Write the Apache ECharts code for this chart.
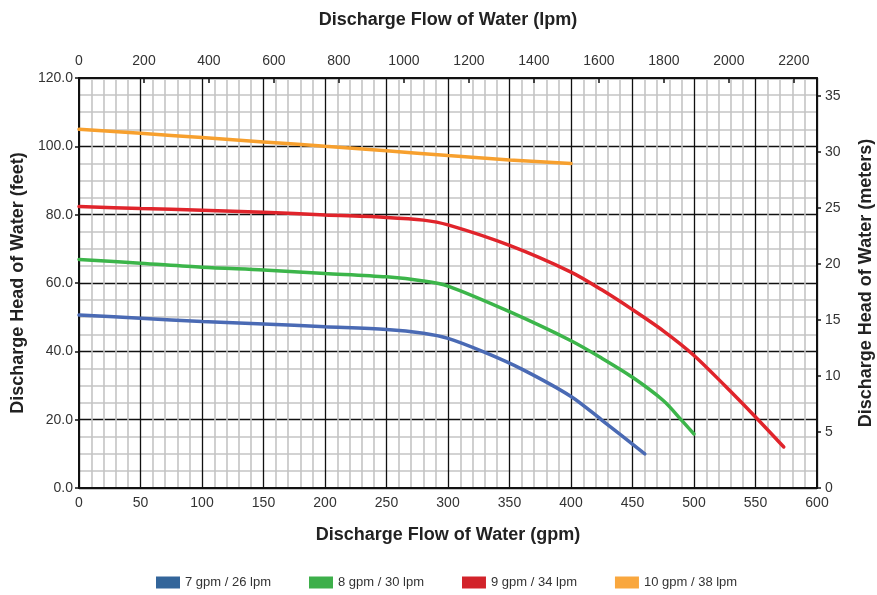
<!DOCTYPE html>
<html>
<head>
<meta charset="utf-8">
<script src="https://cdn.jsdelivr.net/npm/echarts@6/dist/echarts.min.js"></script>
<style>html,body{margin:0;padding:0;background:#fff;overflow:hidden}#c{width:877px;height:595px}</style>
</head>
<body>
<div id="c"></div>
<script>
// ---- data ----
var seriesNames = ['7 gpm / 26 lpm', '8 gpm / 30 lpm', '9 gpm / 34 lpm', '10 gpm / 38 lpm'];
var blueGpm = [0, 50, 100, 150, 200, 250, 280, 300, 330, 360, 400, 425, 460];
var blueFt  = [50.6, 49.7, 48.7, 48.0, 47.2, 46.4, 45.3, 43.8, 39.7, 34.8, 26.8, 19.9, 10.0];
var greenGpm = [0, 50, 100, 150, 200, 250, 280, 300, 350, 400, 425, 450, 475, 490, 500];
var greenFt  = [66.9, 65.8, 64.6, 63.8, 62.8, 61.8, 60.6, 59.1, 51.6, 43.1, 38.0, 32.4, 25.6, 19.8, 15.8];
var redGpm = [0, 50, 100, 150, 200, 250, 280, 300, 350, 400, 425, 450, 475, 500, 525, 550, 573];
var redFt  = [82.4, 81.8, 81.3, 80.7, 79.9, 79.2, 78.4, 77.0, 71.0, 63.2, 58.0, 52.2, 46.0, 38.8, 30.0, 20.8, 12.0];
var orangeGpm = [0, 50, 100, 150, 200, 250, 300, 350, 400];
var orangeFt  = [105.0, 103.8, 102.6, 101.3, 100.0, 98.7, 97.3, 96.0, 95.0];
var gpmTicks = [0, 600, 50];        // min, max, interval
var feetTicks = [0, 120, 20];
var lpmTicks = [0, 200];            // min, interval
var meterTicks = [0, 5];

var lineColors = ['#4a6ab4', '#3cb54a', '#e0242b', '#f7a02e'];
var legendColors = ['#33659a', '#3daf4a', '#d2232a', '#f9a73e'];

function pairs(xs, ys) { return xs.map(function (x, i) { return [x, ys[i]]; }); }
var datasets = [pairs(blueGpm, blueFt), pairs(greenGpm, greenFt), pairs(redGpm, redFt), pairs(orangeGpm, orangeFt)];

var GPM_TO_LPM = 3.78541, FT_TO_M = 0.3048;
var font = '"Liberation Sans", Arial, sans-serif';
var tickLabel = { color: '#333', fontFamily: font, fontSize: 14 };
var nameStyle = { color: '#222', fontFamily: font, fontWeight: 'bold', fontSize: 18 };
var axLine = { show: true, onZero: false, lineStyle: { color: '#111', width: 2 } };

var chart = echarts.init(document.getElementById('c'), null, { renderer: 'canvas' });
chart.setOption({
  backgroundColor: '#fff',
  animation: false,
  grid: { left: 79, right: 60, top: 78, bottom: 107, containLabel: false, outerBoundsMode: 'none' },
  legend: {
    bottom: 1, left: 151,
    icon: 'rect', itemWidth: 24, itemHeight: 12, itemGap: 38,
    textStyle: { color: '#333', fontFamily: font, fontSize: 13 },
    data: seriesNames
  },
  xAxis: [
    {
      type: 'value', position: 'bottom', min: gpmTicks[0], max: gpmTicks[1], interval: gpmTicks[2],
      name: 'Discharge Flow of Water (gpm)', nameLocation: 'middle', nameGap: 38, nameTextStyle: nameStyle,
      axisLine: axLine, axisTick: { show: false },
      axisLabel: Object.assign({ margin: 8, formatter: function (v) { return String(v); } }, tickLabel),
      splitLine: { show: true, lineStyle: { color: '#111', width: 1.3 } },
      minorTick: { show: false, splitNumber: 5 },
      minorSplitLine: { show: true, lineStyle: { color: '#c4c4c4', width: 1.6 } }
    },
    {
      type: 'value', position: 'top', min: lpmTicks[0], max: gpmTicks[1] * GPM_TO_LPM, interval: lpmTicks[1],
      name: 'Discharge Flow of Water (lpm)', nameLocation: 'middle', nameGap: 49, nameTextStyle: nameStyle,
      axisLine: axLine, axisTick: { show: true, inside: true, length: 5, lineStyle: { color: '#111', width: 1.5 } },
      axisLabel: Object.assign({ margin: 10, showMaxLabel: false, formatter: function (v) { return String(v); } }, tickLabel),
      splitLine: { show: false }
    }
  ],
  yAxis: [
    {
      type: 'value', position: 'left', min: feetTicks[0], max: feetTicks[1], interval: feetTicks[2],
      name: 'Discharge Head of Water (feet)', nameLocation: 'middle', nameGap: 52, nameTextStyle: nameStyle,
      axisLine: axLine, axisTick: { show: true, length: 4, lineStyle: { color: '#111', width: 1.5 } },
      axisLabel: Object.assign({ margin: 6, formatter: function (v) { return v.toFixed(1); } }, tickLabel),
      splitLine: { show: true, lineStyle: { color: '#111', width: 1.3 } },
      minorTick: { show: false, splitNumber: 4 },
      minorSplitLine: { show: true, lineStyle: { color: '#c4c4c4', width: 1.6 } }
    },
    {
      type: 'value', position: 'right', min: meterTicks[0], max: feetTicks[1] * FT_TO_M, interval: meterTicks[1],
      name: 'Discharge Head of Water (meters)', nameLocation: 'middle', nameGap: 40, nameTextStyle: nameStyle,
      nameRotate: 90,
      axisLine: axLine, axisTick: { show: true, length: 4, lineStyle: { color: '#111', width: 1.5 } },
      axisLabel: Object.assign({ margin: 8, showMaxLabel: false }, tickLabel),
      splitLine: { show: false }
    }
  ],
  series: datasets.map(function (d, i) {
    return {
      name: seriesNames[i], type: 'line', xAxisIndex: 0, yAxisIndex: 0,
      data: d, smooth: 0.3, symbol: 'none',
      itemStyle: { color: legendColors[i] },
      lineStyle: { color: lineColors[i], width: 3.5, cap: 'round' },
      z: 3
    };
  })
});
</script>
</body>
</html>
